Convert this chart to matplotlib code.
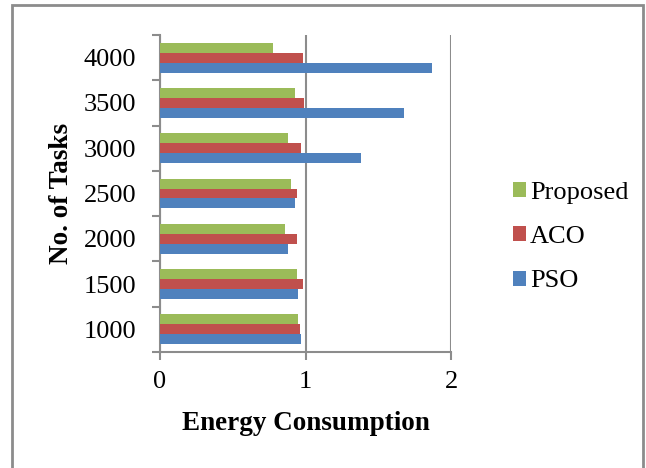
import matplotlib
matplotlib.use("Agg")
import matplotlib.pyplot as plt
import numpy as np

# energy consumption per task count
tasks = ["1000", "1500", "2000", "2500", "3000", "3500", "4000"]
pso = [0.97, 0.95, 0.88, 0.93, 1.38, 1.68, 1.87]
aco = [0.96, 0.98, 0.94, 0.94, 0.97, 0.99, 0.98]
proposed = [0.95, 0.94, 0.86, 0.90, 0.88, 0.93, 0.775]

plt.rcParams['font.family'] = ['Liberation Serif', 'DejaVu Serif']
grey = '#8c8c8c'

fig = plt.figure(figsize=(6.46, 4.68), dpi=100)
# outer frame
fig.patches.append(plt.Rectangle((12/646, -0.05), 631/646, 1.05 - 5/468,
                                 transform=fig.transFigure, fill=False,
                                 edgecolor=grey, linewidth=2))

ax = fig.add_axes([160/646, 1 - 352/468, 291/646, 317/468])

y = np.arange(len(tasks))
h = 0.22
ax.barh(y - h, pso, height=h, color='#4f81bd', label='PSO', zorder=3)
ax.barh(y, aco, height=h, color='#c0504d', label='ACO', zorder=3)
ax.barh(y + h, proposed, height=h, color='#9bbb59', label='Proposed', zorder=3)

ax.set_xlim(0, 2)
ax.set_ylim(-0.5, len(tasks) - 0.5)
ax.set_xticks([0, 1, 2])
ax.set_xticklabels(['0', '1', '2'], fontsize=19)

# category boundaries get the tick marks, labels sit in the middle
ax.set_yticks(np.arange(-0.5, len(tasks)))
ax.set_yticklabels([])
ax.set_yticks(y, minor=True)
ax.set_yticklabels(tasks, minor=True, fontsize=19)
ax.tick_params(axis='y', which='minor', length=0, pad=17)
ax.tick_params(axis='y', which='major', length=6, width=1.5, color=grey)
ax.tick_params(axis='x', length=6, width=1.5, color=grey, pad=8)

ax.xaxis.grid(True, color=grey, linewidth=1.5, zorder=0)
for s in ['top', 'right']:
    ax.spines[s].set_visible(False)
for s in ['left', 'bottom']:
    ax.spines[s].set_color(grey)
    ax.spines[s].set_linewidth(1.5)

ax.set_xlabel('Energy Consumption', fontsize=19.5, fontweight='bold', va='center')
ax.set_ylabel('No. of Tasks', fontsize=19.5, fontweight='bold', va='center')
ax.xaxis.set_label_coords(0.5, (352 - 424) / 317)
ax.yaxis.set_label_coords((62 - 160) / 291, 0.5)

handles, labels = ax.get_legend_handles_labels()
fig.legend(handles[::-1], labels[::-1], loc='center left',
           bbox_to_anchor=(489/646, 1 - 237/468), frameon=False,
           fontsize=19, handlelength=0.5, handleheight=0.5,
           handletextpad=0.15, labelspacing=0.85)

plt.savefig('out.png', dpi=100)
plt.close(fig)
